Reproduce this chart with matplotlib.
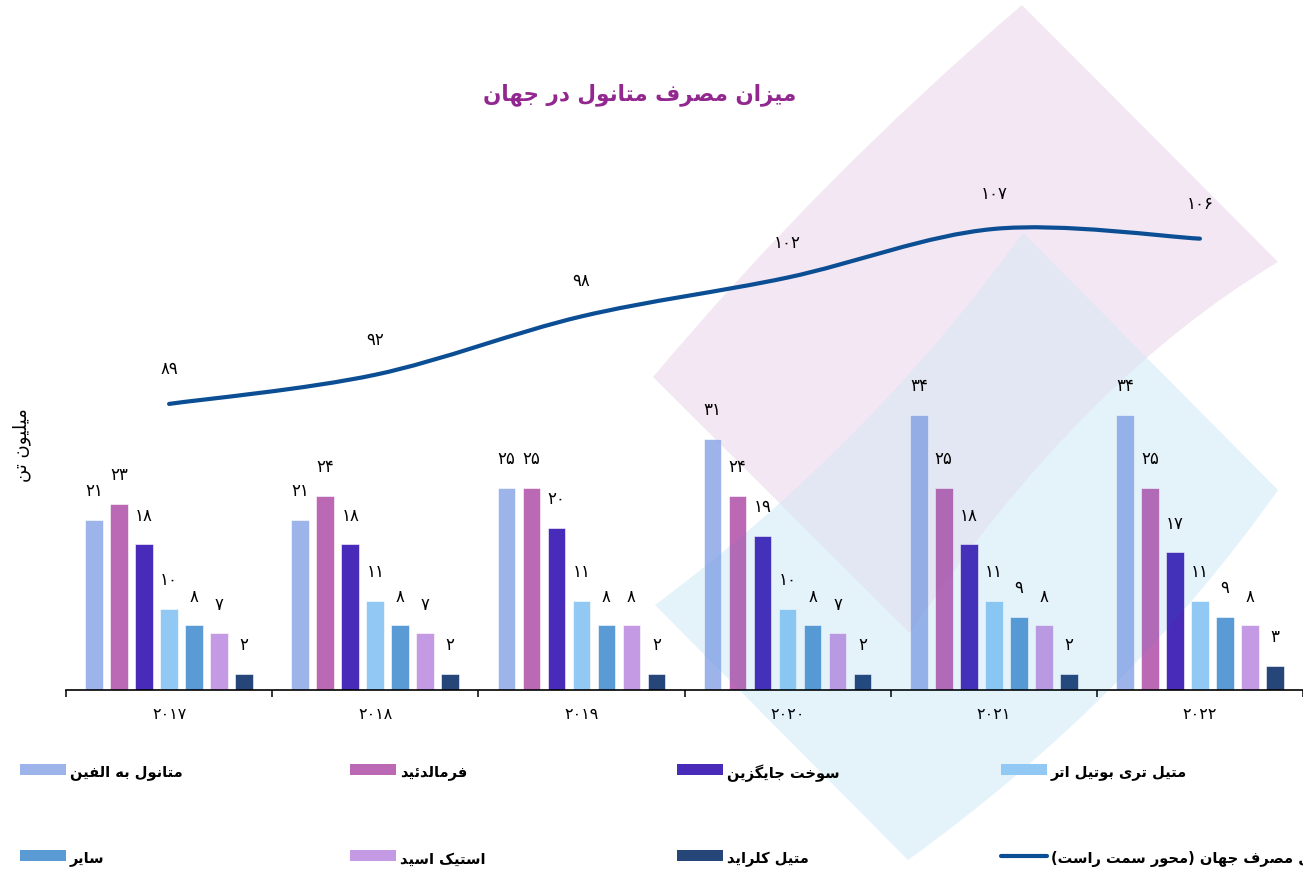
import numpy as np
import matplotlib
matplotlib.use("Agg")
import matplotlib.pyplot as plt
from matplotlib.path import Path
from matplotlib.patches import PathPatch, Rectangle
from matplotlib.lines import Line2D

plt.rcParams["font.family"] = ["DejaVu Sans"]

# data
years = ["2017", "2018", "2019", "2020", "2021", "2022"]
mto = [21, 21, 25, 31, 34, 34]
formaldehyde = [23, 24, 25, 24, 25, 25]
alt_fuel = [18, 18, 20, 19, 18, 17]
mtbe = [10, 11, 11, 10, 11, 11]
other = [8, 8, 8, 8, 9, 9]
acetic = [7, 7, 8, 7, 8, 8]
mecl = [2, 2, 2, 2, 2, 3]
total = [89, 92, 98, 102, 107, 106]

series_names = [
    "متانول به الفین", "فرمالدئید", "سوخت جایگزین", "متیل تری بوتیل اتر",
    "سایر", "استیک اسید", "متیل کلراید",
]
line_name = "کل مصرف جهان (محور سمت راست)"
title = "میزان مصرف متانول در جهان"
ylabel = "میلیون تن"

colors = ["#9DB4EA", "#BB69B5", "#482CB9", "#92C9F4", "#5B9BD5", "#C49AE4", "#26467A"]
line_color = "#0B4E94"

# --- minimal persian shaping (matplotlib has no bidi / joining) ---
FORMS = {
    "ا": ("\uFE8D", "\uFE8E", None, None),
    "ب": ("\uFE8F", "\uFE90", "\uFE91", "\uFE92"),
    "ت": ("\uFE95", "\uFE96", "\uFE97", "\uFE98"),
    "ج": ("\uFE9D", "\uFE9E", "\uFE9F", "\uFEA0"),
    "ح": ("\uFEA1", "\uFEA2", "\uFEA3", "\uFEA4"),
    "خ": ("\uFEA5", "\uFEA6", "\uFEA7", "\uFEA8"),
    "د": ("\uFEA9", "\uFEAA", None, None),
    "ر": ("\uFEAD", "\uFEAE", None, None),
    "ز": ("\uFEAF", "\uFEB0", None, None),
    "س": ("\uFEB1", "\uFEB2", "\uFEB3", "\uFEB4"),
    "ص": ("\uFEB9", "\uFEBA", "\uFEBB", "\uFEBC"),
    "ف": ("\uFED1", "\uFED2", "\uFED3", "\uFED4"),
    "ل": ("\uFEDD", "\uFEDE", "\uFEDF", "\uFEE0"),
    "م": ("\uFEE1", "\uFEE2", "\uFEE3", "\uFEE4"),
    "ن": ("\uFEE5", "\uFEE6", "\uFEE7", "\uFEE8"),
    "ه": ("\uFEE9", "\uFEEA", "\uFEEB", "\uFEEC"),
    "و": ("\uFEED", "\uFEEE", None, None),
    "ئ": ("\uFE89", "\uFE8A", "\uFE8B", "\uFE8C"),
    "ی": ("\uFBFC", "\uFBFD", "\uFBFE", "\uFBFF"),
    "ک": ("\uFB8E", "\uFB8F", "\uFB90", "\uFB91"),
    "گ": ("\uFB92", "\uFB93", "\uFB94", "\uFB95"),
}


def fa(s):
    out = []
    for i, c in enumerate(s):
        if c not in FORMS:
            out.append(c)
            continue
        prev = s[i - 1] if i > 0 else ""
        nxt = s[i + 1] if i + 1 < len(s) else ""
        jp = prev in FORMS and FORMS[prev][2] is not None
        jn = FORMS[c][2] is not None and nxt in FORMS
        iso, fin, ini, med = FORMS[c]
        out.append(med if (jp and jn) else fin if jp else ini if jn else iso)
    return "".join(reversed(out)).translate(str.maketrans("()", ")("))


def fa_num(v):
    return str(v).translate(str.maketrans("0123456789", "۰۱۲۳۴۵۶۷۸۹"))


W, H = 1303, 873


def px(x, y):
    return (x / W, 1 - y / H)


fig = plt.figure(figsize=(W / 100, H / 100), dpi=100)
ax = fig.add_axes([66 / W, 1 - 690 / H, (W - 66) / W, 540 / H])
ax.set_facecolor("none")

# bars
x = np.arange(len(years))
slot, bw = 0.1212, 0.0858
all_series = [mto, formaldehyde, alt_fuel, mtbe, other, acetic, mecl]
for j, (vals, col) in enumerate(zip(all_series, colors)):
    xs = x + (j - 3) * slot
    ax.bar(xs, vals, width=bw, color=col, edgecolor="white", linewidth=0.4, zorder=2)
    for xi, v in zip(xs, vals):
        ax.annotate(fa_num(v), (xi, v), xytext=(0, 20.6), textcoords="offset points",
                    ha="center", va="center", fontsize=12, zorder=5)

ax.set_xlim(-0.5, 5.5)
ax.set_ylim(0, 540 / 8.1)
ax.set_xticks(np.arange(-0.5, 6, 1))
ax.set_xticklabels([])
ax.set_xticks(x, minor=True)
ax.set_xticklabels([fa_num(y) for y in years], minor=True, fontsize=11.5)
ax.tick_params(axis="x", which="major", length=5, width=1.1, color="black")
ax.tick_params(axis="x", which="minor", length=0, pad=12)
ax.set_yticks([])
for side in ["left", "right", "top"]:
    ax.spines[side].set_visible(False)
ax.spines["bottom"].set_linewidth(1.2)

# decorative background shapes
M, L, C3, CL = Path.MOVETO, Path.LINETO, Path.CURVE3, Path.CLOSEPOLY
shape_codes = [M, C3, C3, L, C3, C3, CL]
blue_pts = [(655, 605), (870, 445), (1023, 233), (1278, 490), (1130, 700), (908, 860), (655, 605)]
pink_pts = [(653, 377), (822, 176), (1022, 5), (1278, 262), (1080, 380), (910, 633), (653, 377)]
blue_fc = (0, 145 / 255, 218 / 255)
pink_fc = (150 / 255, 60 / 255, 150 / 255)


def shape(pts, fc, alpha, z, clip=None):
    verts = [px(*p) for p in pts]
    patch = PathPatch(Path(verts, shape_codes), transform=fig.transFigure, facecolor=fc,
                      edgecolor="none", alpha=alpha, clip_on=clip is not None, zorder=z)
    ax.add_artist(patch)
    if clip is not None:
        patch.set_clip_path(Path([px(*p) for p in clip], shape_codes), fig.transFigure)
    return patch


shape(blue_pts, blue_fc, 0.053, 1.0)
shape(pink_pts, pink_fc, 0.083, 1.1)
# overlap of the two shapes is paler in the reference
shape(blue_pts, "white", 0.5, 1.2, clip=pink_pts)
# faint tint that the shapes leave on the bars
shape(blue_pts, blue_fc, 0.05, 3.0)
shape(pink_pts, pink_fc, 0.04, 3.1)

# total line on right axis, smoothed like the spreadsheet chart
ax2 = ax.twinx()
ax2.set_ylim(59.57, 115.12)
ax2.set_axis_off()
pts = np.column_stack([x, total]).astype(float)
ext = np.vstack([pts[0], pts, pts[-1]])
verts = [tuple(pts[0])]
codes = [Path.MOVETO]
for i in range(len(pts) - 1):
    p0, p1, p2, p3 = ext[i], ext[i + 1], ext[i + 2], ext[i + 3]
    verts += [tuple(p1 + (p2 - p0) / 6), tuple(p2 - (p3 - p1) / 6), tuple(p2)]
    codes += [Path.CURVE4] * 3
ax2.add_patch(PathPatch(Path(verts, codes), facecolor="none", edgecolor=line_color,
                        linewidth=3, capstyle="round"))
for xi, v in zip(x, total):
    ax2.annotate(fa_num(v), (xi, v), xytext=(0, 25.2), textcoords="offset points",
                 ha="center", va="center", fontsize=12)

# title and axis label
fig.text(*px(640, 95), fa(title), ha="center", va="center", fontsize=15.5,
         fontweight="bold", color="#92278F")
fig.text(*px(22, 445), fa(ylabel), ha="center", va="center", rotation=90, fontsize=13)

# legend (drawn by hand, spreadsheet style)
leg_x = [20, 350, 677, 1001]
leg_y = [769, 855]
for k in range(8):
    cx, cy = leg_x[k % 4], leg_y[k // 4]
    if k < 7:
        fig.patches.append(Rectangle(px(cx, cy + 6), 46 / W, 11 / H, transform=fig.transFigure,
                                     facecolor=colors[k], edgecolor="none"))
        label = series_names[k]
    else:
        fig.lines.append(Line2D([cx / W, (cx + 46) / W], [1 - (cy + 1) / H] * 2,
                                transform=fig.transFigure, color=line_color, linewidth=3,
                                solid_capstyle="round"))
        label = line_name
    fig.text(*px(cx + 50, cy + 4), fa(label), ha="left", va="center", fontsize=10.5,
             fontweight="bold")

fig.savefig("out.png", dpi=100)
